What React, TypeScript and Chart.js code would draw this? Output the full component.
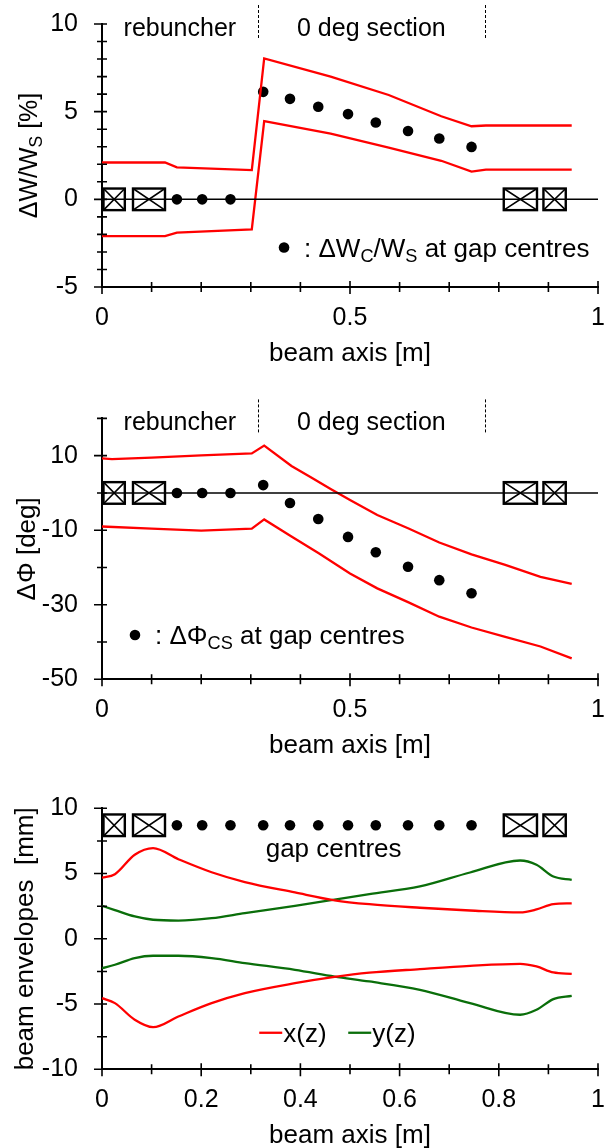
import React, { useEffect, useRef } from "react";
import { Chart, registerables } from "chart.js";

Chart.register(...registerables);

const FAMILY = "'Liberation Sans', Arial, Helvetica, sans-serif";
const RED = "#ff0000";
const GREEN = "#0a6e0a";

// ---------- shared beam-line layout ----------
const gapCentres = [0.151, 0.202, 0.259, 0.325, 0.379, 0.436, 0.496, 0.552, 0.617, 0.68, 0.745];
const magnetStarts = [0.003, 0.0625, 0.81, 0.89];
const magnetEnds = [0.046, 0.127, 0.877, 0.935];
const sectionBounds = [0.314, 0.772];
const sectionNames = ["rebuncher", "0 deg section"];

// ---------- chart 1 : dW/Ws ----------
const dwGapValues = [0, 0, 0, 6.13, 5.73, 5.28, 4.86, 4.38, 3.9, 3.47, 2.99];
const dwUpperZ = [0, 0.127, 0.151, 0.302, 0.327, 0.461, 0.578, 0.684, 0.745, 0.774, 0.947];
const dwUpperV = [2.1, 2.1, 1.82, 1.67, 8.04, 7.0, 5.95, 4.74, 4.17, 4.21, 4.21];
const dwLowerZ = [0, 0.127, 0.151, 0.302, 0.327, 0.461, 0.578, 0.684, 0.745, 0.774, 0.947];
const dwLowerV = [-2.1, -2.1, -1.9, -1.72, 4.46, 3.75, 2.95, 2.2, 1.58, 1.7, 1.7];
const dwYMajor = [-5, 0, 5, 10];
const dwYMinor = [-4, -3, -2, -1, 1, 2, 3, 4, 6, 7, 8, 9];
const xMajorHalf = [0, 0.5, 1];
const xMinorHalf = [0.1, 0.2, 0.3, 0.4, 0.6, 0.7, 0.8, 0.9];

// ---------- chart 2 : dPhi ----------
const dpGapValues = [0, 0, 0, 2.1, -2.7, -7.0, -11.8, -15.9, -19.8, -23.4, -26.9];
const dpUpperZ = [0, 0.02, 0.1, 0.2, 0.302, 0.327, 0.382, 0.421, 0.461, 0.5, 0.555, 0.617, 0.68, 0.745, 0.813, 0.884, 0.947];
const dpUpperV = [9.3, 9.05, 9.5, 10.1, 10.6, 12.7, 7.24, 4.2, 1.06, -1.89, -5.91, -9.49, -13.3, -16.5, -19.3, -22.5, -24.4];
const dpLowerZ = [0, 0.1, 0.2, 0.302, 0.327, 0.382, 0.437, 0.5, 0.555, 0.617, 0.68, 0.745, 0.813, 0.884, 0.947];
const dpLowerV = [-9.0, -9.6, -10.1, -9.6, -7.1, -11.7, -16.2, -21.6, -25.6, -29.3, -33.2, -36.1, -38.6, -41.2, -44.4];
const dpYMajor = [-50, -30, -10, 10];
const dpYMinor = [-40, -20, 0, 20];

// ---------- chart 3 : envelopes ----------
const envGapValues = [8.7, 8.7, 8.7, 8.7, 8.7, 8.7, 8.7, 8.7, 8.7, 8.7, 8.7];
const envZ = [0, 0.026, 0.066, 0.103, 0.154, 0.221, 0.288, 0.389, 0.469, 0.539, 0.641, 0.742, 0.843, 0.876, 0.91, 0.947];
const xUpper = [4.68, 4.95, 6.44, 6.95, 6.1, 5.1, 4.35, 3.55, 2.95, 2.65, 2.38, 2.17, 2.02, 2.25, 2.66, 2.72];
const xLower = [-4.55, -4.93, -6.2, -6.77, -5.95, -4.93, -4.16, -3.4, -2.92, -2.6, -2.32, -2.07, -1.92, -2.12, -2.58, -2.68];
const yUpper = [2.53, 2.2, 1.71, 1.46, 1.4, 1.58, 1.97, 2.53, 3.0, 3.42, 4.01, 5.08, 6.0, 5.67, 4.77, 4.52];
const yLower = [-2.25, -1.99, -1.48, -1.3, -1.3, -1.48, -1.86, -2.38, -2.89, -3.27, -3.91, -4.93, -5.82, -5.44, -4.62, -4.37];
const envYMajor = [-10, -5, 0, 5, 10];
const envYMinor = [-7.5, -2.5, 2.5, 7.5];
const xMajorFifth = [0, 0.2, 0.4, 0.6, 0.8, 1];
const xMinorFifth = [0.1, 0.3, 0.5, 0.7, 0.9];
const legendNames = ["x(z)", "y(z)"];

type Part = { t: string; sub?: boolean };

const font = (size: number) => `${size}px ${FAMILY}`;
const TICK_SIZE = 25;
const NOTE_SIZE = 26;

function drawRich(ctx: CanvasRenderingContext2D, parts: Part[], x: number, y: number, size: number, align: "left" | "center") {
  const subSize = size * 0.7;
  const widths = parts.map((p) => {
    ctx.font = font(p.sub ? subSize : size);
    return ctx.measureText(p.t).width;
  });
  const total = widths.reduce((a, b) => a + b, 0);
  let cx = align === "center" ? x - total / 2 : x;
  ctx.textAlign = "left";
  ctx.textBaseline = "alphabetic";
  parts.forEach((p, i) => {
    ctx.font = font(p.sub ? subSize : size);
    ctx.fillText(p.t, cx, y + (p.sub ? size * 0.2 : 0));
    cx += widths[i];
  });
}

const pts = (xs: number[], ys: number[]) => xs.map((x, i) => ({ x, y: ys[i] }));

function lineDs(xs: number[], ys: number[], color: string, smooth = false) {
  return {
    data: pts(xs, ys),
    borderColor: color,
    backgroundColor: color,
    borderWidth: 2.3,
    pointRadius: 0,
    tension: 0,
    cubicInterpolationMode: smooth ? "monotone" : "default",
    fill: false,
  };
}

function dotDs(ys: number[]) {
  return {
    data: pts(gapCentres, ys),
    showLine: false,
    pointRadius: 5.3,
    pointBackgroundColor: "#000",
    pointBorderColor: "#000",
    pointBorderWidth: 0,
    borderColor: "#000",
  };
}

function zeroDs() {
  return {
    data: pts([0, 1], [0, 0]),
    borderColor: "#000",
    borderWidth: 1.5,
    pointRadius: 0,
  };
}

type Spec = {
  key: string;
  height: number;
  areaTop: number;
  areaBottom: number;
  yMin: number;
  yMax: number;
  yMajor: number[];
  yMinor: number[];
  xMajor: number[];
  xMinor: number[];
  magnetCentre: number;
  sections: boolean;
  yTitle: Part[];
  yTitleSize: number;
  yTitleX: number;
  datasets: any[];
  extra: (ctx: CanvasRenderingContext2D, chart: any) => void;
};

function drawMagnets(ctx: CanvasRenderingContext2D, chart: any, centre: number) {
  const xs = chart.scales.x;
  const yc = chart.scales.y.getPixelForValue(centre);
  const h = 10.8;
  magnetStarts.forEach((s, i) => {
    const x0 = xs.getPixelForValue(s);
    const x1 = xs.getPixelForValue(magnetEnds[i]);
    ctx.lineWidth = 2.4;
    ctx.strokeRect(x0, yc - h, x1 - x0, 2 * h);
    ctx.lineWidth = 1.6;
    ctx.beginPath();
    ctx.moveTo(x0, yc - h);
    ctx.lineTo(x1, yc + h);
    ctx.moveTo(x0, yc + h);
    ctx.lineTo(x1, yc - h);
    ctx.stroke();
  });
}

function drawSections(ctx: CanvasRenderingContext2D, chart: any) {
  const xs = chart.scales.x;
  const top = chart.chartArea.top;
  ctx.save();
  ctx.lineWidth = 1;
  ctx.setLineDash([3, 2]);
  sectionBounds.forEach((b) => {
    const p = Math.round(xs.getPixelForValue(b)) + 0.5;
    ctx.beginPath();
    ctx.moveTo(p, top - 19);
    ctx.lineTo(p, top + 15);
    ctx.stroke();
  });
  ctx.restore();
  ctx.font = font(25);
  ctx.textAlign = "center";
  ctx.textBaseline = "alphabetic";
  const edges = [0, ...sectionBounds];
  sectionNames.forEach((n, i) => {
    const c = xs.getPixelForValue((edges[i] + edges[i + 1]) / 2);
    ctx.fillText(n, c, top + 12);
  });
}

function decorPlugin(spec: Spec) {
  return {
    id: "decor" + spec.key,
    afterDraw(chart: any) {
      const ctx: CanvasRenderingContext2D = chart.ctx;
      const xs = chart.scales.x;
      const ys = chart.scales.y;
      const { left, right, top, bottom } = chart.chartArea;
      ctx.save();
      ctx.strokeStyle = "#000";
      ctx.fillStyle = "#000";
      // crossing tick marks
      ctx.lineWidth = 1.6;
      ctx.beginPath();
      spec.yMajor.forEach((v) => {
        const p = ys.getPixelForValue(v);
        ctx.moveTo(left - 8, p);
        ctx.lineTo(left + 5, p);
      });
      spec.yMinor.forEach((v) => {
        const p = ys.getPixelForValue(v);
        ctx.moveTo(left - 5, p);
        ctx.lineTo(left + 5, p);
      });
      spec.xMajor.forEach((v) => {
        const p = xs.getPixelForValue(v);
        ctx.moveTo(p, bottom - 6);
        ctx.lineTo(p, bottom + 7);
      });
      spec.xMinor.forEach((v) => {
        const p = xs.getPixelForValue(v);
        ctx.moveTo(p, bottom - 5);
        ctx.lineTo(p, bottom + 5);
      });
      ctx.stroke();

      drawMagnets(ctx, chart, spec.magnetCentre);
      if (spec.sections) drawSections(ctx, chart);

      // axis titles
      ctx.fillStyle = "#000";
      drawRich(ctx, [{ t: "beam axis [m]" }], (left + right) / 2, bottom + 74, 26, "center");
      ctx.save();
      ctx.translate(spec.yTitleX, (top + bottom) / 2);
      ctx.rotate(-Math.PI / 2);
      drawRich(ctx, spec.yTitle, 0, 0, spec.yTitleSize, "center");
      ctx.restore();

      spec.extra(ctx, chart);
      ctx.restore();
    },
  };
}

function noPad(s: any) {
  s.paddingTop = 0;
  s.paddingBottom = 0;
  s.paddingLeft = 0;
  s.paddingRight = 0;
}

function makeConfig(spec: Spec): any {
  const fmt = (v: number) => String(v);
  return {
    type: "line",
    data: { datasets: spec.datasets },
    options: {
      responsive: false,
      animation: false,
      devicePixelRatio: 1,
      events: [],
      layout: { padding: { top: spec.areaTop, left: 0, right: 12, bottom: 0 } },
      plugins: { legend: { display: false }, tooltip: { enabled: false } },
      scales: {
        x: {
          type: "linear",
          position: "bottom",
          min: 0,
          max: 1,
          afterBuildTicks: (s: any) => {
            s.ticks = spec.xMajor.map((v) => ({ value: v }));
          },
          afterFit: (s: any) => {
            s.height = spec.height - spec.areaBottom;
            noPad(s);
          },
          grid: { display: false, drawTicks: false },
          border: { display: true, color: "#000", width: 2 },
          ticks: {
            color: "#000",
            font: { family: FAMILY, size: TICK_SIZE },
            padding: 16,
            maxRotation: 0,
            autoSkip: false,
            callback: (v: number) => fmt(v),
          },
        },
        y: {
          type: "linear",
          position: "left",
          min: spec.yMin,
          max: spec.yMax,
          afterBuildTicks: (s: any) => {
            s.ticks = spec.yMajor.map((v) => ({ value: v }));
          },
          afterFit: (s: any) => {
            s.width = 102;
            noPad(s);
          },
          grid: { display: false, drawTicks: false },
          border: { display: true, color: "#000", width: 2 },
          ticks: {
            color: "#000",
            font: { family: FAMILY, size: TICK_SIZE },
            padding: 24,
            autoSkip: false,
            callback: (v: number) => fmt(v),
          },
        },
      },
    },
    plugins: [decorPlugin(spec)],
  };
}

function dotLegend(ctx: CanvasRenderingContext2D, chart: any, zx: number, vy: number, parts: Part[]) {
  const px = chart.scales.x.getPixelForValue(zx);
  const py = chart.scales.y.getPixelForValue(vy);
  ctx.beginPath();
  ctx.arc(px, py, 5.3, 0, Math.PI * 2);
  ctx.fill();
  drawRich(ctx, parts, px + 20, py + 9, NOTE_SIZE, "left");
}

const spec1: Spec = {
  key: "dw",
  height: 380,
  areaTop: 24,
  areaBottom: 287,
  yMin: -5,
  yMax: 10,
  yMajor: dwYMajor,
  yMinor: dwYMinor,
  xMajor: xMajorHalf,
  xMinor: xMinorHalf,
  magnetCentre: 0,
  sections: true,
  yTitle: [{ t: "ΔW/W" }, { t: "S", sub: true }, { t: " [%]" }],
  yTitleSize: 25,
  yTitleX: 37,
  datasets: [zeroDs(), lineDs(dwUpperZ, dwUpperV, RED), lineDs(dwLowerZ, dwLowerV, RED), dotDs(dwGapValues)],
  extra: (ctx, chart) =>
    dotLegend(ctx, chart, 0.367, -2.75, [
      { t: ": ΔW" },
      { t: "C", sub: true },
      { t: "/W" },
      { t: "S", sub: true },
      { t: " at gap centres" },
    ]),
};

const spec2: Spec = {
  key: "dp",
  height: 385,
  areaTop: 38.4,
  areaBottom: 299.3,
  yMin: -50,
  yMax: 20,
  yMajor: dpYMajor,
  yMinor: dpYMinor,
  xMajor: xMajorHalf,
  xMinor: xMinorHalf,
  magnetCentre: 0,
  sections: true,
  yTitle: [{ t: "ΔΦ [deg]" }],
  yTitleSize: 26,
  yTitleX: 35,
  datasets: [zeroDs(), lineDs(dpUpperZ, dpUpperV, RED), lineDs(dpLowerZ, dpLowerV, RED), dotDs(dpGapValues)],
  extra: (ctx, chart) =>
    dotLegend(ctx, chart, 0.0665, -38.1, [{ t: ": ΔΦ" }, { t: "CS", sub: true }, { t: " at gap centres" }]),
};

const spec3: Spec = {
  key: "env",
  height: 383,
  areaTop: 43.3,
  areaBottom: 304.3,
  yMin: -10,
  yMax: 10,
  yMajor: envYMajor,
  yMinor: envYMinor,
  xMajor: xMajorFifth,
  xMinor: xMinorFifth,
  magnetCentre: 8.7,
  sections: false,
  yTitle: [{ t: "beam envelopes  [mm]" }],
  yTitleSize: 26,
  yTitleX: 33,
  datasets: [
    lineDs(envZ, xUpper, RED, true),
    lineDs(envZ, xLower, RED, true),
    lineDs(envZ, yUpper, GREEN, true),
    lineDs(envZ, yLower, GREEN, true),
    dotDs(envGapValues),
  ],
  extra: (ctx, chart) => {
    const xs = chart.scales.x;
    const ys = chart.scales.y;
    ctx.font = font(NOTE_SIZE);
    ctx.textAlign = "center";
    ctx.textBaseline = "alphabetic";
    ctx.fillText("gap centres", xs.getPixelForValue(0.467), ys.getPixelForValue(6.28));
    // legend
    const lx = xs.getPixelForValue(0.317);
    const ly = ys.getPixelForValue(-7.2);
    const colors = [RED, GREEN];
    const offsets = [0, 89];
    legendNames.forEach((n, i) => {
      const sx = lx + offsets[i];
      ctx.strokeStyle = colors[i];
      ctx.lineWidth = 2.3;
      ctx.beginPath();
      ctx.moveTo(sx, ly);
      ctx.lineTo(sx + 23, ly);
      ctx.stroke();
      ctx.fillStyle = "#000";
      ctx.font = font(NOTE_SIZE);
      ctx.textAlign = "left";
      ctx.fillText(n, sx + 24, ly + 9);
    });
  },
};

function Panel({ top, spec }: { top: number; spec: Spec }) {
  const ref = useRef<HTMLCanvasElement>(null);
  useEffect(() => {
    const chart = new Chart(ref.current as HTMLCanvasElement, makeConfig(spec));
    return () => chart.destroy();
  }, []);
  return (
    <div style={{ position: "absolute", left: 0, top, width: 610, height: spec.height }}>
      <canvas ref={ref} width={610} height={spec.height} style={{ display: "block" }} />
    </div>
  );
}

export default function App() {
  return (
    <div style={{ position: "absolute", left: 0, top: 0, width: 610, height: 1148, background: "#fff", overflow: "hidden" }}>
      <Panel top={0} spec={spec1} />
      <Panel top={380} spec={spec2} />
      <Panel top={765} spec={spec3} />
    </div>
  );
}
